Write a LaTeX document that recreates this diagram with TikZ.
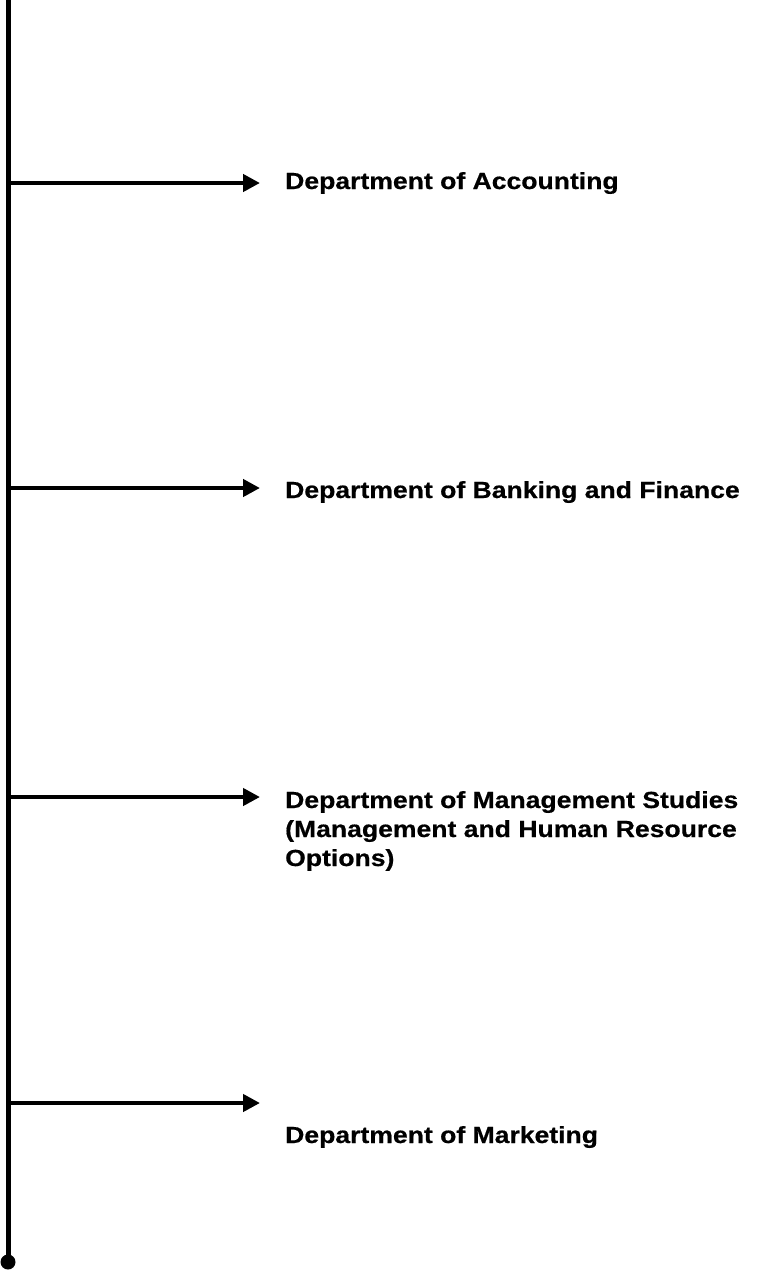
\documentclass[tikz,border=0pt]{standalone}
\usepackage{fontspec}
\setmainfont{Liberation Sans}
\newfontfamily\deptfont[FakeStretch=1.14,FakeBold=0.6]{Liberation Sans Bold}
\usetikzlibrary{arrows.meta}

\tikzset{
  dept/.style={anchor=base west, inner sep=0pt, align=left,
    font=\deptfont\fontsize{23.3}{29}\selectfont},
  branch/.style={line width=4.5pt, -{Triangle[length=17pt,width=17pt]}}
}

\begin{document}
\begin{tikzpicture}[x=1pt,y=-1pt]
			\useasboundingbox (0,0) rectangle (757,1270);
			% main line
			\coordinate (top) at (8,0);
			\coordinate (bot) at (8,1262);
			\draw[line width=5pt] (top) -- (bot);
			\fill (bot) circle (7.5pt);
			% branches
			\coordinate (s1) at (8,183);  \coordinate (e1) at (260,183);
			\coordinate (s2) at (8,488);  \coordinate (e2) at (260,488);
			\coordinate (s3) at (8,797);  \coordinate (e3) at (260,797);
			\coordinate (s4) at (8,1103); \coordinate (e4) at (260,1103);
			\draw[branch] (s1) -- (e1);
			\draw[branch] (s2) -- (e2);
			\draw[branch] (s3) -- (e3);
			\draw[branch] (s4) -- (e4);
			% departments (base of the last line)
			\node[dept] (acc) at (285,189) {Department of Accounting};
			\node[dept] (bank) at (285,498) {Department of Banking and Finance};
			\node[dept] (mgmt) at (285,866) {Department of Management Studies\\(Management and Human Resource\\Options)};
			\node[dept] (mkt) at (285,1143) {Department of Marketing};
		\end{tikzpicture}
\end{document}
